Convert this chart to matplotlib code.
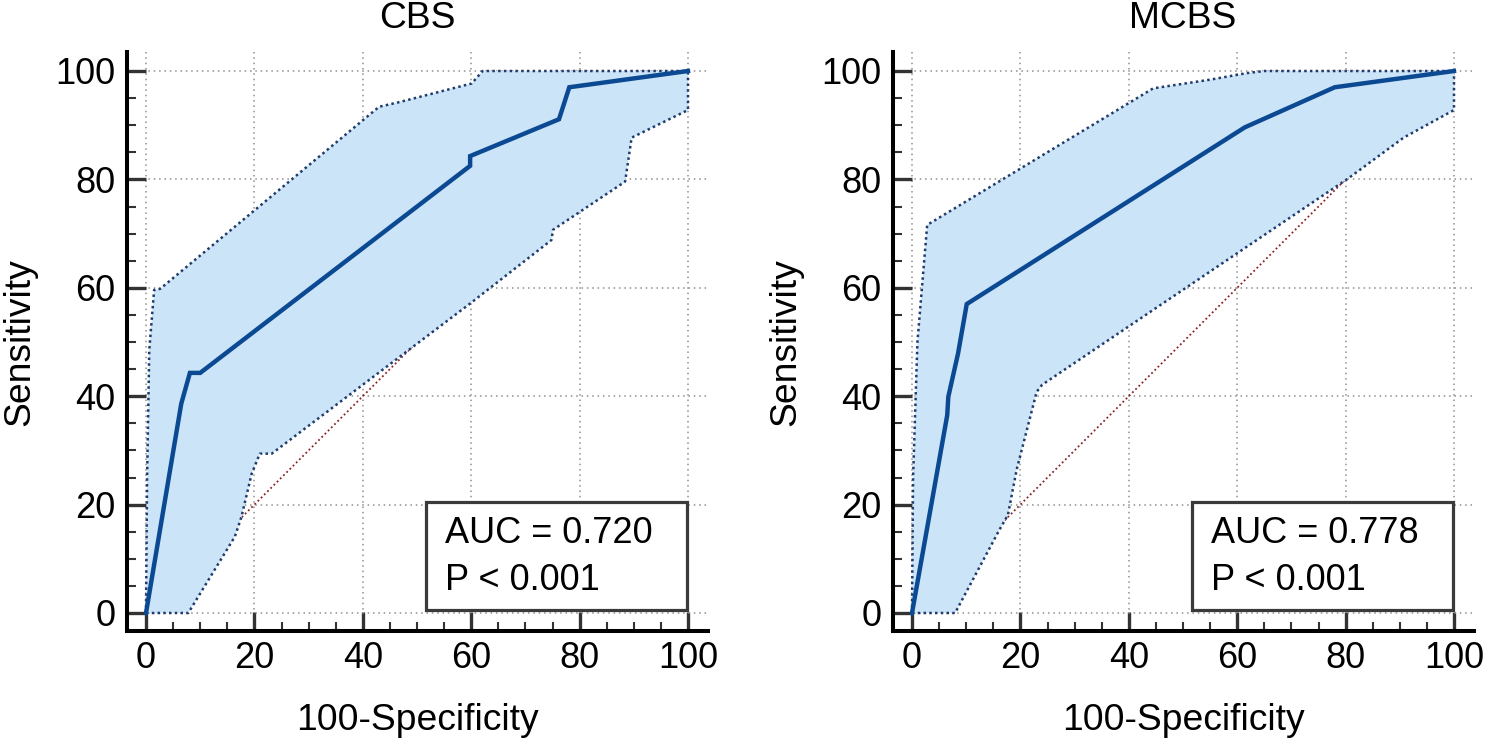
import matplotlib
matplotlib.use('Agg')
import matplotlib.pyplot as plt
from matplotlib.patches import Rectangle
from matplotlib.ticker import MultipleLocator

plt.rcParams['font.family'] = ['Liberation Sans', 'DejaVu Sans']

# ---------------- data ----------------
titles = ["CBS", "MCBS"]
auc_labels = ["AUC = 0.720", "AUC = 0.778"]
p_labels = ["P < 0.001", "P < 0.001"]
x_label = "100-Specificity"
y_label = "Sensitivity"
ticks = [0, 20, 40, 60, 80, 100]

cbs_fpr = [0, 6.5, 8.1, 10.0, 59.8, 59.8, 76.2, 78.1, 100]
cbs_sens = [0, 38.6, 44.3, 44.3, 82.5, 84.3, 91.1, 97.0, 100]
cbs_upper_fpr = [0, 0.2, 0.6, 1.5, 2.6, 43.0, 46.9, 60.1, 62.1, 100]
cbs_upper_sens = [0, 25, 48.5, 59.6, 59.8, 93.4, 94.3, 97.7, 100, 100]
cbs_lower_fpr = [0, 7.8, 16.4, 17.6, 19.5, 21.0, 23.2, 59.8, 74.8, 75.1, 88.4, 89.6, 100, 100]
cbs_lower_sens = [0, 0, 14.1, 17.7, 25.7, 29.4, 29.4, 57.1, 68.8, 70.7, 79.6, 87.7, 92.8, 100]

mcbs_fpr = [0, 3.6, 6.5, 6.7, 8.5, 10.1, 61.4, 78.0, 100]
mcbs_sens = [0, 20.2, 36.5, 39.9, 47.9, 57.0, 89.6, 97.0, 100]
mcbs_upper_fpr = [0, 0.2, 1.0, 2.8, 44.5, 55.0, 61.7, 65.0, 100]
mcbs_upper_sens = [0, 25, 50, 71.6, 96.8, 98.4, 99.6, 100, 100]
mcbs_lower_fpr = [0, 7.95, 16.1, 17.7, 19.3, 23.0, 24.0, 80.5, 90.7, 100, 100]
mcbs_lower_sens = [0, 0, 15.3, 18.1, 26.4, 40.8, 42.1, 80.2, 87.7, 92.8, 100]

panels = [
    (cbs_fpr, cbs_sens, cbs_upper_fpr, cbs_upper_sens, cbs_lower_fpr, cbs_lower_sens),
    (mcbs_fpr, mcbs_sens, mcbs_upper_fpr, mcbs_upper_sens, mcbs_lower_fpr, mcbs_lower_sens),
]

# ---------------- layout ----------------
W, H = 1489, 743
fig = plt.figure(figsize=(W / 100, H / 100), dpi=100)

XLIM = (-3.5, 103.7)
YLIM = (-3.3, 103.5)
SCALE = 5.42  # px per data unit
zero_px = [146, 912]  # pixel x of data x=0 for each panel
y0_px = 613

FS = 26
FS_LAB = 26.8
for i, (fpr, sens, ux, uy, lx, ly) in enumerate(panels):
    left = zero_px[i] + XLIM[0] * SCALE
    right = zero_px[i] + XLIM[1] * SCALE
    bottom = y0_px - YLIM[0] * SCALE
    top = y0_px - YLIM[1] * SCALE
    ax = fig.add_axes([left / W, 1 - bottom / H, (right - left) / W, (bottom - top) / H])
    ax.set_xlim(*XLIM)
    ax.set_ylim(*YLIM)

    for s in ['top', 'right']:
        ax.spines[s].set_visible(False)
    for s in ['left', 'bottom']:
        ax.spines[s].set_linewidth(2.9)
        ax.spines[s].set_color('black')

    ax.set_xticks(ticks)
    ax.set_yticks(ticks)
    ax.xaxis.set_minor_locator(MultipleLocator(5))
    ax.yaxis.set_minor_locator(MultipleLocator(5))
    ax.tick_params(which='major', direction='in', length=13.7, width=2.4,
                   color='#333333', labelsize=FS)
    ax.tick_params(which='minor', direction='in', length=6.8, width=1.5,
                   color='#333333')
    ax.tick_params(axis='x', which='major', pad=7.0)
    ax.tick_params(axis='y', which='major', pad=8.4)

    ax.set_axisbelow(True)
    ax.grid(which='major', linestyle=(0, (1, 2.5)), color='#8f8f8f', linewidth=1.1)

    # reference diagonal
    ax.plot([0, 100], [0, 100], color='#8b2323', linestyle=(0, (1, 1.5)),
            linewidth=1.3, zorder=1.5)
    # confidence band
    poly_x = list(ux) + list(lx)[::-1]
    poly_y = list(uy) + list(ly)[::-1]
    ax.fill(poly_x, poly_y, color='#cce4f8', linewidth=0, zorder=2)
    ax.plot(ux, uy, color='#1f3b6b', linestyle=(0, (1, 1.3)), linewidth=1.8,
            zorder=3, clip_on=False)
    ax.plot(lx, ly, color='#1f3b6b', linestyle=(0, (1, 1.3)), linewidth=1.8,
            zorder=3, clip_on=False)
    # ROC curve
    ax.plot(fpr, sens, color='#0b4a93', linewidth=3.2, zorder=4, clip_on=False,
            solid_joinstyle='miter')

    # AUC box
    ax.add_patch(Rectangle((51.7, 0.5), 48.2, 20.0, facecolor='white',
                           edgecolor='#3a3a3a', linewidth=2.3, zorder=5))
    ax.text(55.2, 12.9, auc_labels[i], fontsize=FS, va='baseline', ha='left', zorder=6)
    ax.text(55.2, 4.2, p_labels[i], fontsize=FS, va='baseline', ha='left', zorder=6)

    cx = zero_px[i] + 50 * SCALE
    fig.text(cx / W, 1 - 28 / H, titles[i], ha='center', va='baseline', fontsize=FS_LAB)
    fig.text(cx / W, 1 - 730 / H, x_label, ha='center', va='baseline', fontsize=FS_LAB)
    fig.text((left - 107) / W, 1 - 342 / H, y_label, ha='center', va='center',
             rotation=90, fontsize=FS_LAB)

fig.savefig('out.png', dpi=100, facecolor='white')
